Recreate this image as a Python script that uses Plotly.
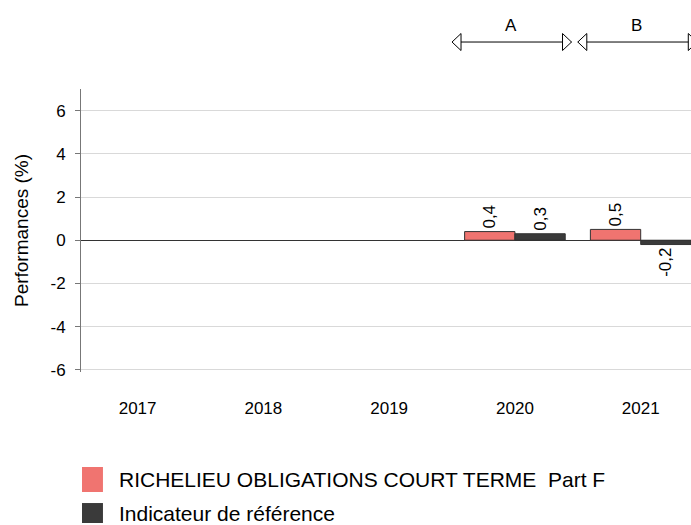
import plotly.graph_objects as go

years = ["2017", "2018", "2019", "2020", "2021"]
fund_values = [None, None, None, 0.4, 0.5]
bench_values = [None, None, None, 0.3, -0.2]
fund_name = "RICHELIEU OBLIGATIONS COURT TERME  Part F"
bench_name = "Indicateur de référence"
period_labels = ["A", "B"]
period_years = ["2020", "2021"]
y_ticks = [-6, -4, -2, 0, 2, 4, 6]

RED = "#F07470"
DARK = "#3A3A3A"
FONT = "Liberation Sans, Arial, sans-serif"

fig = go.Figure()
fig.add_trace(go.Bar(
    x=years, y=fund_values, name=fund_name,
    marker=dict(color=RED, line=dict(color="#333333", width=1)),
    texttemplate="%{y:.1f}", textposition="outside", textangle=-90,
    textfont=dict(size=17, color="#000000", family=FONT), cliponaxis=False,
))
fig.add_trace(go.Bar(
    x=years, y=bench_values, name=bench_name,
    marker=dict(color=DARK, line=dict(color="#333333", width=1)),
    texttemplate="%{y:.1f}", textposition="outside", textangle=-90,
    textfont=dict(size=17, color="#000000", family=FONT), cliponaxis=False,
))

# period arrows (A, B) above the plot
cat_index = {y: i for i, y in enumerate(years)}
shapes = []
annotations = []
ARROW_Y = 1.166
LABEL_Y = 1.226
for lab, yr in zip(period_labels, period_years):
    i = cat_index[yr]
    x0, x1 = i - 0.5, i + 0.45
    shapes.append(dict(type="line", xref="x", yref="paper", x0=x0, x1=x1,
                       y0=ARROW_Y, y1=ARROW_Y, line=dict(color="#000000", width=1)))
    shapes.append(dict(type="path", xref="x", yref="paper", xsizemode="pixel", ysizemode="pixel",
                       xanchor=x0, yanchor=ARROW_Y,
                       path="M0,0 L9,8.5 L9,-8.5 Z",
                       fillcolor="#FFFFFF", line=dict(color="#000000", width=1)))
    shapes.append(dict(type="path", xref="x", yref="paper", xsizemode="pixel", ysizemode="pixel",
                       xanchor=x1, yanchor=ARROW_Y,
                       path="M0,0 L-9,8.5 L-9,-8.5 Z",
                       fillcolor="#FFFFFF", line=dict(color="#000000", width=1)))
    annotations.append(dict(text=lab, xref="x", yref="paper", x=i - 0.03, y=LABEL_Y,
                            showarrow=False, font=dict(size=17, color="#000000", family=FONT),
                            xanchor="center", yanchor="middle"))

# manual legend
legend_items = [(fund_name, RED, -0.3357, -0.424, -0.3816),
                (bench_name, DARK, -0.463, -0.5336, -0.500)]
for name, col, ytop, ybot, ytext in legend_items:
    shapes.append(dict(type="rect", xref="paper", yref="paper", x0=0.0016, x1=0.036,
                       y0=ybot, y1=ytop, fillcolor=col, line=dict(width=0)))
    annotations.append(dict(text=name, xref="paper", yref="paper", x=0.059, y=ytext,
                            showarrow=False, xanchor="left", yanchor="middle",
                            font=dict(size=21, color="#000000", family=FONT)))

fig.update_layout(
    width=691, height=525,
    margin=dict(l=81, r=0, t=89, b=153, autoexpand=False),
    paper_bgcolor="#FFFFFF", plot_bgcolor="#FFFFFF",
    barmode="group", bargap=0.2, bargroupgap=0,
    showlegend=False,
    separators=", ",
    font=dict(family=FONT, color="#000000"),
    shapes=shapes, annotations=annotations,
    xaxis=dict(range=[-0.45, 4.4], showgrid=False, showline=False, zeroline=False,
               automargin=False,
               ticks="", ticklabelstandoff=24, tickfont=dict(size=17, family=FONT, color="#000000")),
    yaxis=dict(range=[-6.1, 7], tickvals=y_ticks, ticktext=[str(v) for v in y_ticks],
               automargin=False,
               showgrid=True, gridcolor="#D9D9D9", gridwidth=1,
               zeroline=True, zerolinecolor="#333333", zerolinewidth=1,
               showline=True, linecolor="#777777", linewidth=1,
               ticks="outside", ticklen=5, tickcolor="#777777", ticklabelstandoff=6,
               tickfont=dict(size=17, family=FONT, color="#000000"),
               title=dict(text="Performances (%)", font=dict(size=19, family=FONT, color="#000000"),
                          standoff=16)),
)

# remove the default page margin so the figure fills the 691x525 window
fig.write_html("out.html",
               config={"displayModeBar": False},
               post_script="document.body.style.margin='0';document.body.style.overflow='hidden';")
